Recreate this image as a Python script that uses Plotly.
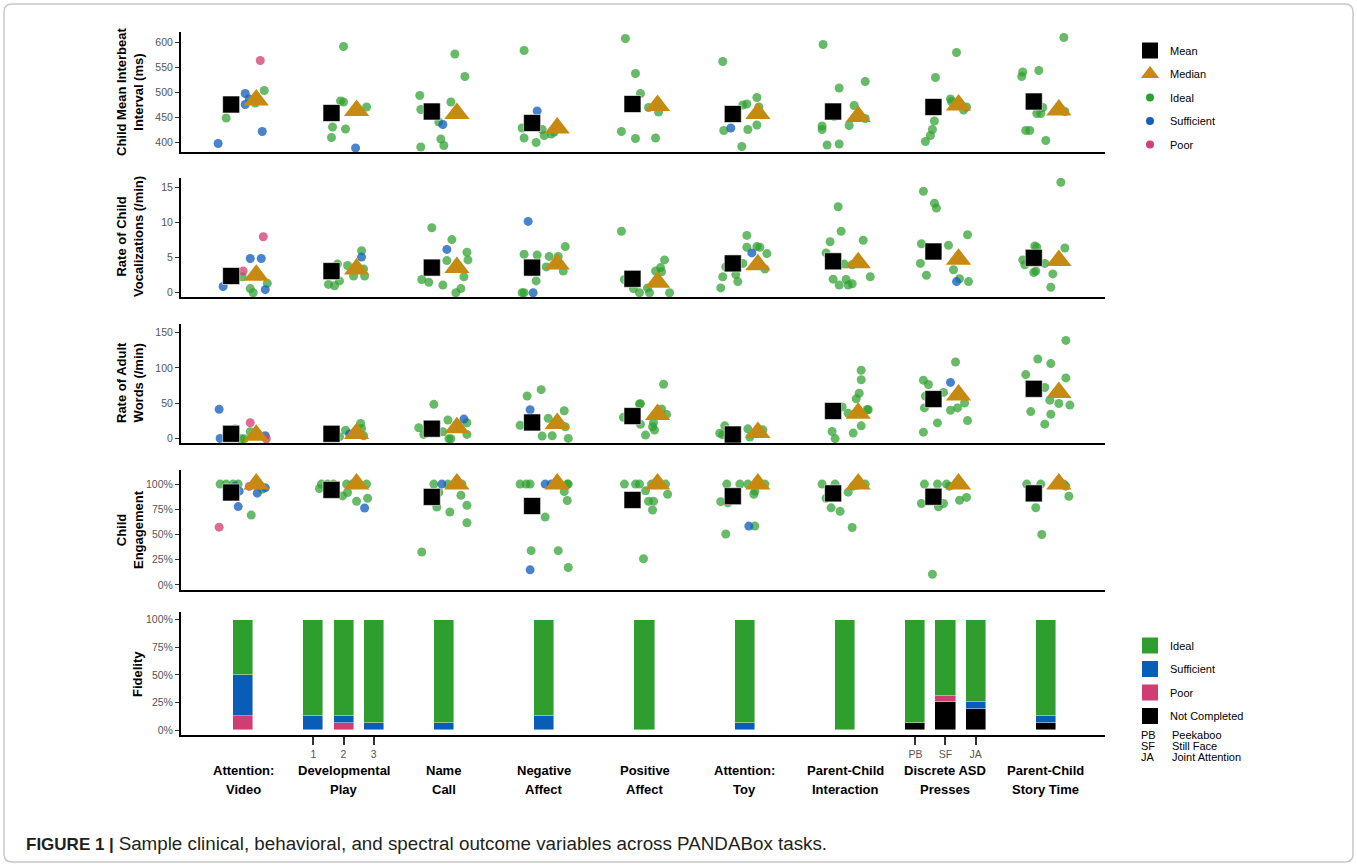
import plotly.graph_objects as go

# ---------------- DATA ----------------
cat_line1 = ["Attention:", "Developmental", "Name", "Negative", "Positive",
             "Attention:", "Parent-Child", "Discrete ASD", "Parent-Child"]
cat_line2 = ["Video", "Play", "Call", "Affect", "Affect",
             "Toy", "Interaction", "Presses", "Story Time"]

# points: (category index, jitter offset, value, rating I/S/P)
ibi_points = [
    (1,-0.25,397,"S"),(1,-0.17,448,"I"),(1,0.02,497,"S"),(1,0.02,475,"S"),(1,0.06,486,"S"),
    (1,0.17,563,"P"),(1,0.21,503,"I"),(1,0.19,421,"S"),(1,0.12,478,"I"),
    (2,0.0,591,"I"),(2,-0.03,482,"I"),(2,0.0,480,"I"),(2,0.23,470,"I"),(2,-0.11,430,"I"),
    (2,0.02,426,"I"),(2,-0.12,409,"I"),(2,0.12,388,"S"),
    (3,-0.24,493,"I"),(3,-0.23,465,"I"),(3,0.11,576,"I"),(3,0.21,531,"I"),(3,0.07,480,"I"),
    (3,-0.05,440,"I"),(3,-0.01,435,"S"),(3,-0.03,406,"I"),(3,-0.23,390,"I"),(3,0.0,393,"I"),
    (4,-0.2,583,"I"),(4,-0.07,462,"S"),(4,-0.22,428,"I"),(4,-0.02,425,"I"),(4,-0.2,408,"I"),
    (4,-0.08,399,"I"),(4,0.0,413,"I"),(4,0.07,416,"I"),(4,0.1,420,"I"),
    (5,-0.19,607,"I"),(5,-0.09,537,"I"),(5,-0.04,497,"I"),(5,0.04,469,"I"),(5,0.14,460,"I"),
    (5,-0.23,421,"I"),(5,-0.09,407,"I"),(5,0.11,408,"I"),
    (6,-0.22,561,"I"),(6,-0.02,474,"I"),(6,0.02,476,"I"),(6,0.12,489,"I"),(6,0.14,470,"I"),
    (6,-0.14,428,"S"),(6,-0.21,423,"I"),(6,0.03,425,"I"),(6,0.12,434,"I"),(6,-0.03,391,"I"),
    (7,-0.22,595,"I"),(7,-0.06,508,"I"),(7,0.2,521,"I"),(7,0.09,473,"I"),(7,0.2,447,"I"),
    (7,-0.11,451,"I"),(7,0.04,433,"I"),(7,-0.23,432,"I"),(7,-0.23,425,"I"),(7,-0.18,394,"I"),
    (7,-0.06,396,"I"),
    (8,0.11,579,"I"),(8,-0.1,529,"I"),(8,0.05,486,"I"),(8,0.06,481,"I"),(8,0.21,470,"I"),
    (8,0.18,464,"I"),(8,-0.11,442,"I"),(8,-0.13,425,"I"),(8,-0.15,413,"I"),(8,-0.2,401,"I"),
    (9,0.18,609,"I"),(9,-0.23,540,"I"),(9,-0.24,531,"I"),(9,-0.07,543,"I"),(9,-0.03,469,"I"),
    (9,-0.05,457,"I"),(9,-0.09,457,"I"),(9,0.19,461,"I"),(9,-0.2,423,"I"),(9,-0.16,423,"I"),
    (9,0.0,403,"I"),
]
ibi_mean = [475, 458, 461, 438, 476, 456, 461, 470, 481]
ibi_median = [484, 463, 457, 428, 473, 457, 451, 474, 464]

voc_points = [
    (1,-0.2,0.9,"S"),(1,-0.1,2.7,"I"),(1,0.0,3.1,"P"),(1,-0.01,2.3,"I"),(1,0.07,4.9,"S"),
    (1,0.18,4.9,"S"),(1,0.2,8.0,"P"),(1,0.07,0.6,"I"),(1,0.1,0.0,"I"),(1,0.24,1.35,"I"),
    (1,0.22,0.45,"S"),
    (2,-0.15,1.2,"I"),(2,-0.09,1.0,"I"),(2,-0.04,1.7,"I"),(2,-0.06,4.1,"I"),(2,0.04,3.9,"I"),
    (2,0.18,6.0,"I"),(2,0.18,5.1,"S"),(2,0.2,3.4,"I"),(2,0.21,2.4,"I"),(2,0.1,2.4,"I"),
    (3,-0.12,9.3,"I"),(3,0.08,7.6,"I"),(3,0.03,6.2,"S"),(3,0.23,5.8,"I"),(3,0.24,4.7,"I"),
    (3,0.03,4.6,"I"),(3,-0.22,1.9,"I"),(3,-0.15,1.5,"I"),(3,-0.01,1.1,"I"),(3,0.17,0.6,"I"),
    (3,0.12,0.0,"I"),(3,0.2,2.3,"I"),
    (4,-0.16,10.2,"S"),(4,-0.2,5.5,"I"),(4,-0.07,5.4,"I"),(4,0.21,6.6,"I"),(4,0.05,5.2,"I"),
    (4,0.14,5.2,"I"),(4,0.02,3.7,"I"),(4,0.19,3.1,"I"),(4,-0.08,1.7,"I"),(4,-0.22,0.0,"I"),
    (4,-0.2,0.0,"I"),(4,-0.11,0.0,"S"),
    (5,-0.23,8.8,"I"),(5,0.2,4.7,"I"),(5,0.16,3.6,"I"),(5,0.17,3.0,"I"),(5,0.11,3.1,"I"),
    (5,-0.2,1.9,"I"),(5,-0.11,0.6,"I"),(5,0.03,0.7,"I"),(5,-0.05,0.0,"I"),(5,0.05,0.0,"I"),
    (5,0.25,0.0,"I"),
    (6,0.02,8.2,"I"),(6,0.02,6.5,"I"),(6,0.07,5.7,"S"),(6,0.12,6.6,"I"),(6,0.15,6.5,"I"),
    (6,0.22,5.6,"I"),(6,-0.02,4.2,"I"),(6,0.2,3.4,"I"),(6,-0.22,2.3,"I"),(6,-0.09,2.6,"I"),
    (6,-0.07,1.6,"I"),(6,-0.24,0.7,"I"),(6,-0.19,3.7,"I"),
    (7,-0.07,12.3,"I"),(7,-0.04,8.8,"I"),(7,-0.15,7.3,"I"),(7,0.18,7.5,"I"),(7,-0.19,5.7,"I"),
    (7,-0.01,4.1,"I"),(7,0.07,4.0,"I"),(7,0.25,2.3,"I"),(7,-0.12,1.95,"I"),(7,0.01,1.9,"I"),
    (7,-0.06,1.1,"I"),(7,0.03,1.1,"I"),(7,0.07,1.3,"I"),
    (8,-0.22,14.5,"I"),(8,-0.11,12.8,"I"),(8,-0.09,12.1,"I"),(8,0.22,8.3,"I"),(8,-0.24,7.0,"I"),
    (8,0.03,6.8,"I"),(8,-0.25,4.2,"I"),(8,0.08,3.3,"I"),(8,-0.19,2.5,"I"),(8,0.11,1.6,"S"),
    (8,0.14,2.0,"I"),(8,0.23,1.6,"I"),
    (9,0.15,15.8,"I"),(9,-0.11,6.7,"I"),(9,-0.09,6.5,"I"),(9,0.19,6.4,"I"),(9,-0.23,4.7,"I"),
    (9,-0.21,4.0,"I"),(9,-0.12,2.9,"I"),(9,-0.1,3.1,"I"),(9,-0.01,4.2,"I"),(9,0.07,2.7,"I"),
    (9,0.05,0.8,"I"),
]
voc_mean = [2.4, 3.1, 3.6, 3.6, 2.0, 4.2, 4.5, 5.9, 5.0]
voc_median = [2.5, 3.4, 3.6, 4.1, 1.5, 4.0, 4.3, 4.8, 4.6]

words_points = [
    (1,-0.24,41.5,"S"),(1,0.07,22.6,"P"),(1,-0.23,0.5,"S"),(1,-0.08,13.7,"I"),(1,-0.02,0.0,"I"),
    (1,0.01,0.0,"I"),(1,0.22,4.2,"S"),(1,0.23,0.0,"P"),(1,0.07,10.0,"I"),(1,-0.12,2.0,"I"),
    (2,0.02,12.0,"I"),(2,0.17,21.7,"I"),(2,0.18,14.6,"I"),(2,0.06,6.6,"S"),(2,-0.04,3.0,"I"),
    (2,0.2,4.2,"I"),(2,-0.07,5.0,"I"),
    (3,-0.1,48.6,"I"),(3,0.04,26.4,"I"),(3,0.2,27.8,"S"),(3,0.23,22.6,"I"),(3,0.23,6.1,"I"),
    (3,-0.25,15.6,"I"),(3,-0.2,6.1,"I"),(3,-0.01,9.9,"I"),(3,0.05,0.0,"I"),(3,0.07,0.0,"I"),
    (4,-0.03,69.3,"I"),(4,-0.17,60.4,"I"),(4,-0.14,41.0,"S"),(4,0.2,39.6,"I"),(4,0.04,28.8,"I"),
    (4,-0.24,18.9,"I"),(4,0.21,17.0,"I"),(4,-0.02,3.8,"I"),(4,0.08,4.2,"I"),(4,0.24,0.5,"I"),
    (5,0.19,76.9,"I"),(5,-0.05,49.0,"I"),(5,-0.04,49.5,"I"),(5,0.17,42.0,"I"),(5,0.22,34.4,"I"),
    (5,-0.21,30.2,"I"),(5,-0.04,20.3,"I"),(5,0.08,17.0,"I"),(5,0.09,23.0,"I"),(5,0.01,5.2,"I"),
    (5,0.1,12.3,"I"),
    (6,-0.2,18.2,"I"),(6,-0.25,7.7,"I"),(6,-0.22,5.6,"I"),(6,0.03,14.0,"I"),(6,0.18,12.6,"I"),
    (6,0.05,2.3,"I"),(6,-0.1,10.0,"I"),(6,0.15,8.0,"I"),(6,-0.15,3.0,"I"),
    (7,0.16,96.7,"I"),(7,0.16,83.3,"I"),(7,0.14,64.2,"I"),(7,0.11,56.3,"I"),(7,0.23,40.9,"I"),
    (7,0.22,41.3,"I"),(7,-0.03,45.0,"I"),(7,0.03,36.0,"I"),(7,0.16,18.2,"I"),(7,0.08,8.0,"I"),
    (7,-0.13,10.3,"I"),(7,-0.1,0.2,"I"),
    (8,0.1,108.3,"I"),(8,-0.22,82.7,"I"),(8,-0.17,76.6,"I"),(8,0.05,79.5,"S"),(8,-0.02,65.4,"I"),
    (8,-0.2,60.2,"I"),(8,0.19,50.5,"I"),(8,0.12,43.5,"I"),(8,0.05,40.3,"I"),(8,-0.21,43.5,"I"),
    (8,-0.08,22.4,"I"),(8,0.22,25.6,"I"),(8,-0.22,9.3,"I"),
    (9,0.2,138.8,"I"),(9,-0.08,112.6,"I"),(9,0.05,106.1,"I"),(9,-0.2,90.6,"I"),(9,0.2,85.9,"I"),
    (9,-0.01,72.3,"I"),(9,0.04,54.5,"I"),(9,0.13,49.8,"I"),(9,0.24,47.5,"I"),(9,-0.15,38.3,"I"),
    (9,0.05,34.6,"I"),(9,-0.01,20.6,"I"),
]
words_mean = [7, 7, 14.2, 23, 32, 6, 39.2, 56, 70.5]
words_median = [5, 7.5, 15.6, 21.7, 34.4, 9, 36, 61.7, 65.4]

eng_points = [
    (1,-0.23,1.0,"I"),(1,-0.17,1.0,"I"),(1,-0.1,1.0,"I"),(1,-0.05,1.0,"I"),(1,-0.08,0.98,"S"),
    (1,0.06,0.977,"P"),(1,-0.04,0.93,"S"),(1,0.14,0.91,"S"),(1,0.22,0.963,"S"),(1,0.19,0.95,"I"),
    (1,-0.05,0.777,"S"),(1,0.08,0.693,"I"),(1,-0.24,0.573,"P"),
    (2,-0.24,0.957,"I"),(2,-0.22,1.0,"I"),(2,-0.16,1.0,"I"),(2,-0.1,1.0,"I"),(2,0.03,1.0,"I"),
    (2,0.09,1.0,"I"),(2,0.23,1.0,"I"),(2,0.1,1.0,"S"),(2,-0.01,0.883,"I"),(2,0.04,0.917,"I"),
    (2,0.13,0.83,"I"),(2,0.24,0.86,"I"),(2,0.21,0.763,"S"),
    (3,-0.1,1.0,"I"),(3,0.04,1.0,"I"),(3,0.18,1.0,"I"),(3,0.15,1.0,"I"),(3,-0.02,1.0,"S"),
    (3,-0.05,0.917,"I"),(3,0.17,0.89,"I"),(3,-0.07,0.773,"I"),(3,0.23,0.79,"I"),(3,0.06,0.723,"I"),
    (3,0.23,0.617,"I"),(3,-0.22,0.327,"I"),
    (4,-0.24,1.0,"I"),(4,-0.18,1.0,"I"),(4,-0.14,1.0,"I"),(4,0.24,1.0,"I"),(4,0.23,1.0,"I"),
    (4,0.01,1.0,"S"),(4,0.07,1.0,"S"),(4,0.2,0.927,"I"),(4,0.23,0.837,"I"),(4,0.01,0.673,"I"),
    (4,-0.13,0.34,"I"),(4,0.14,0.34,"I"),(4,-0.14,0.15,"S"),(4,0.24,0.173,"I"),
    (5,-0.2,1.0,"I"),(5,-0.09,1.0,"I"),(5,-0.05,1.0,"I"),(5,0.07,1.0,"I"),(5,0.21,1.0,"I"),
    (5,0.01,0.933,"I"),(5,0.23,0.9,"I"),(5,0.04,0.83,"I"),(5,0.09,0.83,"I"),(5,0.08,0.743,"I"),
    (5,-0.01,0.26,"I"),
    (6,-0.18,1.0,"I"),(6,-0.05,1.0,"I"),(6,0.03,1.0,"I"),(6,0.2,1.0,"I"),(6,-0.24,0.826,"I"),
    (6,-0.17,0.815,"I"),(6,0.09,0.9,"I"),(6,0.04,0.584,"S"),(6,0.1,0.584,"I"),(6,-0.19,0.505,"I"),
    (6,0.1,0.93,"I"),
    (7,-0.23,1.0,"I"),(7,-0.1,1.0,"I"),(7,0.08,0.98,"I"),(7,0.2,1.0,"I"),(7,-0.19,0.86,"I"),
    (7,-0.14,0.765,"I"),(7,-0.05,0.73,"I"),(7,0.03,0.92,"I"),(7,0.07,0.57,"I"),(7,0.12,0.99,"I"),
    (8,-0.21,1.0,"I"),(8,-0.08,1.0,"I"),(8,0.01,1.0,"I"),(8,0.04,0.98,"I"),(8,-0.24,0.808,"I"),
    (8,-0.07,0.775,"I"),(8,-0.02,0.808,"I"),(8,0.14,0.84,"I"),(8,0.21,0.868,"I"),(8,-0.13,0.106,"I"),
    (9,-0.19,1.0,"I"),(9,-0.05,1.0,"I"),(9,0.18,1.0,"I"),(9,0.2,0.98,"I"),(9,0.23,0.88,"I"),
    (9,-0.1,0.766,"I"),(9,-0.04,0.5,"I"),
]
eng_mean = [0.917, 0.943, 0.873, 0.783, 0.843, 0.88, 0.908, 0.875, 0.908]
eng_median = [1.0, 1.0, 1.0, 1.0, 1.0, 1.0, 1.0, 1.0, 1.0]

# fidelity bars
bar_cat = [1, 2, 2, 2, 3, 4, 5, 6, 7, 8, 8, 8, 9]
bar_sub = [0, -1, 0, 1, 0, 0, 0, 0, 0, -1, 0, 1, 0]
bar_sublabel = ["", "1", "2", "3", "", "", "", "", "", "PB", "SF", "JA", ""]
fid_not_completed = [0, 0, 0, 0, 0, 0, 0, 0, 0, 6.25, 25, 18.75, 6.25]
fid_poor = [12.5, 0, 6.25, 0, 0, 0, 0, 0, 0, 0, 6.25, 0, 0]
fid_sufficient = [37.5, 12.5, 6.25, 6.25, 6.25, 12.5, 0, 6.25, 0, 0, 0, 6.25, 6.25]
fid_ideal = [50, 87.5, 87.5, 93.75, 93.75, 87.5, 100, 93.75, 100, 93.75, 68.75, 75, 87.5]

abbr = ["PB", "SF", "JA"]
abbr_full = ["Peekaboo", "Still Face", "Joint Attention"]

ytitles = ["Child Mean Interbeat<br>Interval (ms)", "Rate of Child<br>Vocalizations (/min)",
           "Rate of Adult<br>Words (/min)", "Child<br>Engagement", "Fidelity"]

caption_label = "FIGURE 1 |"
caption_text = "Sample clinical, behavioral, and spectral outcome variables across PANDABox tasks."

# ---------------- STYLE ----------------
W, H = 1357, 866
L, R, T, B = 181, 1105, 20, 735
FONT = "Liberation Sans, Arial, Helvetica, sans-serif"

def PX(X):
    return (X - L) / (R - L)

def PY(Y):
    return (B - Y) / (B - T)

pt_color = {"I": "rgba(44,160,44,0.72)", "S": "rgba(21,96,189,0.78)", "P": "rgba(214,64,117,0.78)"}
leg_color = {"I": "#2ca02c", "S": "#1560bd", "P": "#d23f76"}
bar_colors = {"Ideal": "#2e9e2e", "Sufficient": "#0a5db6", "Poor": "#cf3e73", "NC": "#000000"}
median_color = "#c68a12"
MEAN_OFF, MED_OFF = -0.12, 0.13
SUB_SP = 0.3
XR = [0.38, 9.59]

domains = [
    [PY(152), PY(32)],
    [PY(297), PY(178)],
    [PY(443), PY(324)],
    [PY(590), PY(470)],
    [PY(735), PY(612)],
]
yranges = [[380, 620], [-0.6, 16.4], [-6, 162], [-0.05, 1.14], [-0.045, 1.07]]
ytickvals = [[400, 450, 500, 550, 600], [0, 5, 10, 15], [0, 50, 100, 150],
             [0, .25, .5, .75, 1], [0, .25, .5, .75, 1]]

fig = go.Figure()

panels = [(ibi_points, ibi_mean, ibi_median),
          (voc_points, voc_mean, voc_median),
          (words_points, words_mean, words_median),
          (eng_points, eng_mean, eng_median)]

names = {"I": "Ideal", "S": "Sufficient", "P": "Poor"}
for i, (pts, mn, md) in enumerate(panels):
    xa = "x" if i == 0 else f"x{i+1}"
    ya = "y" if i == 0 else f"y{i+1}"
    for r in ["I", "S", "P"]:
        sel = [p for p in pts if p[3] == r]
        fig.add_trace(go.Scatter(
            x=[p[0] + p[1] for p in sel], y=[p[2] for p in sel], mode="markers",
            marker=dict(size=9, color=pt_color[r], line=dict(width=0)),
            xaxis=xa, yaxis=ya, showlegend=False, name=names[r]))
    cats = list(range(1, 10))
    fig.add_trace(go.Scatter(
        x=[c + MEAN_OFF for c in cats], y=mn, mode="markers",
        marker=dict(symbol="square", size=17, color="black", line=dict(width=0.6, color="white")),
        xaxis=xa, yaxis=ya, showlegend=False, name="Mean"))
    fig.add_trace(go.Scatter(
        x=[c + MED_OFF for c in cats], y=md, mode="markers",
        marker=dict(symbol="triangle-up", size=22, color=median_color, line=dict(width=0)),
        xaxis=xa, yaxis=ya, showlegend=False, name="Median"))

# fidelity bars (stacked, bottom first)
bx = [c + s * SUB_SP for c, s in zip(bar_cat, bar_sub)]
for name, vals, col in [("Not Completed", fid_not_completed, bar_colors["NC"]),
                        ("Poor", fid_poor, bar_colors["Poor"]),
                        ("Sufficient", fid_sufficient, bar_colors["Sufficient"]),
                        ("Ideal", fid_ideal, bar_colors["Ideal"])]:
    fig.add_trace(go.Bar(
        x=bx, y=[v / 100 for v in vals], width=0.2, marker=dict(color=col,
        line=dict(width=0.8, color="rgba(255,255,255,0.55)")),
        xaxis="x5", yaxis="y5", showlegend=False, name=name))

# legend 1 entries
fig.add_trace(go.Scatter(x=[None], y=[None], mode="markers", name="Mean",
                         marker=dict(symbol="square", size=17, color="black"),
                         legend="legend", legendgroup="a1", xaxis="x", yaxis="y"))
fig.add_trace(go.Scatter(x=[None], y=[None], mode="markers", name="Median",
                         marker=dict(symbol="triangle-up", size=22, color=median_color),
                         legend="legend", legendgroup="a2", xaxis="x", yaxis="y"))
for j, r in enumerate(["I", "S", "P"]):
    fig.add_trace(go.Scatter(x=[None], y=[None], mode="markers", name=names[r],
                             marker=dict(size=8, color=leg_color[r]),
                             legend="legend", legendgroup=f"a{j+3}", xaxis="x", yaxis="y"))
# legend 2 entries
for j, (nm, col) in enumerate([("Ideal", bar_colors["Ideal"]), ("Sufficient", bar_colors["Sufficient"]),
                               ("Poor", bar_colors["Poor"]), ("Not Completed", bar_colors["NC"])]):
    fig.add_trace(go.Scatter(x=[None], y=[None], mode="markers", name=nm,
                             marker=dict(symbol="square", size=20, color=col),
                             legend="legend2", legendgroup=f"b{j}", xaxis="x5", yaxis="y5"))

layout = dict(
    width=W, height=H, plot_bgcolor="white", paper_bgcolor="white",
    margin=dict(l=L, r=W - R, t=T, b=H - B, autoexpand=False),
    font=dict(family=FONT, size=11, color="black"),
    barmode="stack", bargap=0,
    legend=dict(x=PX(1130), y=PY(36), xanchor="left", yanchor="top", tracegroupgap=4.5,
                font=dict(size=11, family=FONT), bgcolor="rgba(0,0,0,0)"),
    legend2=dict(x=PX(1130), y=PY(631), xanchor="left", yanchor="top", tracegroupgap=4.5,
                 font=dict(size=11, family=FONT), bgcolor="rgba(0,0,0,0)"),
)

for i in range(5):
    k = "" if i == 0 else str(i + 1)
    last = (i == 4)
    layout[f"xaxis{k}"] = dict(
        domain=[0, 1], anchor=f"y{k}", range=XR, showgrid=False, zeroline=False,
        showline=True, linecolor="black", linewidth=2,
        ticks="outside" if last else "", ticklen=8, tickwidth=2, tickcolor="#333",
        showticklabels=last,
        tickvals=[x for x, s in zip(bx, bar_sublabel) if s] if last else None,
        ticktext=[s for s in bar_sublabel if s] if last else None,
        tickfont=dict(size=10.5, color="#555"),
    )
    layout[f"yaxis{k}"] = dict(
        domain=domains[i], anchor=f"x{k}", range=yranges[i], showgrid=False, zeroline=False,
        showline=True, linecolor="black", linewidth=2,
        ticks="outside", ticklen=4, tickwidth=1, tickcolor="#333",
        tickvals=ytickvals[i], tickfont=dict(size=10.5, color="#555"),
        tickformat=".0%" if i >= 3 else None,
    )

annotations = []
centers_y = [92, 237, 383, 530, 674]
for i, t in enumerate(ytitles):
    annotations.append(dict(text=f"<b>{t}</b>", x=PX(130 if i < 4 else 137), y=PY(centers_y[i]),
                            xref="paper", yref="paper", textangle=-90, showarrow=False,
                            xanchor="center", yanchor="middle",
                            font=dict(size=13, family=FONT, color="black")))
for c in range(9):
    annotations.append(dict(text=f"<b>{cat_line1[c]}</b>", x=c + 1, y=PY(770), xref="x5", yref="paper",
                            showarrow=False, xanchor="center", yanchor="middle",
                            font=dict(size=13, family=FONT, color="black")))
    annotations.append(dict(text=f"<b>{cat_line2[c]}</b>", x=c + 1, y=PY(789), xref="x5", yref="paper",
                            showarrow=False, xanchor="center", yanchor="middle",
                            font=dict(size=13, family=FONT, color="black")))
for j in range(3):
    yy = PY(735 + j * 11)
    annotations.append(dict(text=abbr[j], x=PX(1139), y=yy, xref="paper", yref="paper",
                            showarrow=False, xanchor="left", yanchor="middle",
                            font=dict(size=11, family=FONT, color="black")))
    annotations.append(dict(text=abbr_full[j], x=PX(1170), y=yy, xref="paper", yref="paper",
                            showarrow=False, xanchor="left", yanchor="middle",
                            font=dict(size=11, family=FONT, color="black")))
annotations.append(dict(
    text=f"<b>{caption_label}</b> <span style='font-size:18.8px'>{caption_text}</span>",
    x=PX(24), y=PY(843), xref="paper", yref="paper", showarrow=False,
    xanchor="left", yanchor="middle", font=dict(size=17, family=FONT, color="#231f20")))
layout["annotations"] = annotations

# rounded outer border
x0, x1, y0, y1, rr = 4, 1353, 4, 862, 8
def P(X, Y):
    return f"{PX(X):.5f},{PY(Y):.5f}"
path = (f"M{P(x0+rr,y0)} L{P(x1-rr,y0)} Q{P(x1,y0)} {P(x1,y0+rr)} L{P(x1,y1-rr)} "
        f"Q{P(x1,y1)} {P(x1-rr,y1)} L{P(x0+rr,y1)} Q{P(x0,y1)} {P(x0,y1-rr)} "
        f"L{P(x0,y0+rr)} Q{P(x0,y0)} {P(x0+rr,y0)} Z")
layout["shapes"] = [dict(type="path", path=path, xref="paper", yref="paper",
                         line=dict(color="#c8c8c8", width=1.5), layer="below")]

fig.update_layout(**layout)
fig.write_html("out.html", config={"displayModeBar": False},
               post_script="document.body.style.margin='0';document.body.style.overflow='hidden';")
